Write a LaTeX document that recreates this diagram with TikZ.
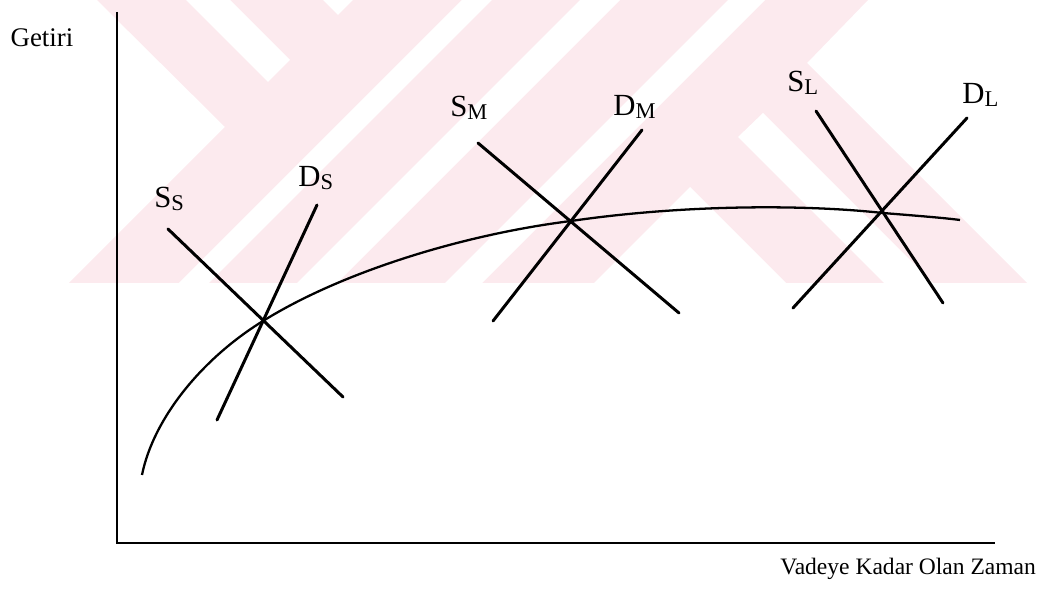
\documentclass[tikz,border=0pt]{standalone}
\usepackage{fontspec}
\setmainfont{Liberation Serif}
\usetikzlibrary{positioning}

\definecolor{wmpink}{RGB}{252,234,238}

% supply/demand label: big letter with a small, slightly lowered index
\newcommand{\sdlab}[2]{{\fontsize{17.5}{18}\selectfont #1}\raisebox{-1.6pt}{\fontsize{12.8}{13}\selectfont #2}}

\begin{document}
\begin{tikzpicture}[x=0.02cm, y=-0.02cm,
  every node/.style={inner sep=0pt},
  axisline/.style={line width=1.1pt},
  sdline/.style={line width=1.7pt, line cap=round},
  yieldcurve/.style={line width=1.3pt},
  sdlabel/.style={anchor=base west}]

\path[use as bounding box] (0,0) rectangle (1039,591);

% watermark (pale bands in the upper half)
\begin{scope}
  \clip (0,0) rectangle (1039,283);
  \fill[wmpink] (97,0) -- (868,0) -- (807,63) -- (1027,283)
    -- (69,283) -- (225,127) -- cycle;
  \fill[white] (186,0) -- (230,0) -- (290,60) -- (268,82) -- cycle;
  \fill[white] (323,0) -- (353,0) -- (338,15) -- cycle;
  \foreach \a/\b in {462/492, 580/620, 728/765}
    \fill[white] (\a,0) -- (\b,0) -- ({\b-283},283) -- ({\a-283},283) -- cycle;
  \fill[white] (690,187) -- (786,283) -- (594,283) -- cycle;
  \fill[white] (763,113) -- (933,283) -- (884,283) -- (738,137) -- cycle;
\end{scope}

% axes
\coordinate (origin) at (117,543);
\coordinate (ytop) at (117,12);
\coordinate (xend) at (995,543);
\draw[axisline] (ytop) -- (origin) -- (xend);

\node[font=\fontsize{15.3}{16}\selectfont] (getiri) at (42,38) {Getiri};
\node[anchor=base west, font=\fontsize{13.4}{14}\selectfont] (vade) at (780,574)
  {Vadeye Kadar Olan Zaman};

% yield curve
\coordinate (c0) at (142,475);
\coordinate (c1) at (263,321);
\coordinate (c2) at (571,221);
\coordinate (c3) at (883,213);
\coordinate (c4) at (960,220);
\draw[yieldcurve] (c0) .. controls (153,420) and (200,360) .. (c1)
  .. controls (340,273) and (460,235) .. (c2)
  .. controls (680,205) and (800,204) .. (c3)
  .. controls (920,216) and (945,218) .. (c4);

% supply / demand lines
\foreach \n/\xa/\ya/\xb/\yb in {ss/168/229/343/397, ds/317/205/217/420,
    sm/478/143/679/313, dm/642/130/493/321,
    sl/816/111/943/303, dl/967/118/793/308} {
  \coordinate (\n top) at (\xa,\ya);
  \coordinate (\n bot) at (\xb,\yb);
  \draw[sdline] (\n top) -- (\n bot);
}

% labels
\node[sdlabel] (lss) at (154,208) {\sdlab{S}{S}};
\node[sdlabel] (lds) at (298,187) {\sdlab{D}{S}};
\node[sdlabel] (lsm) at (450,117) {\sdlab{S}{M}};
\node[sdlabel] (ldm) at (613,116) {\sdlab{D}{M}};
\node[sdlabel] (lsl) at (787,92) {\sdlab{S}{L}};
\node[sdlabel] (ldl) at (962,104) {\sdlab{D}{L}};
\end{tikzpicture}
\end{document}
